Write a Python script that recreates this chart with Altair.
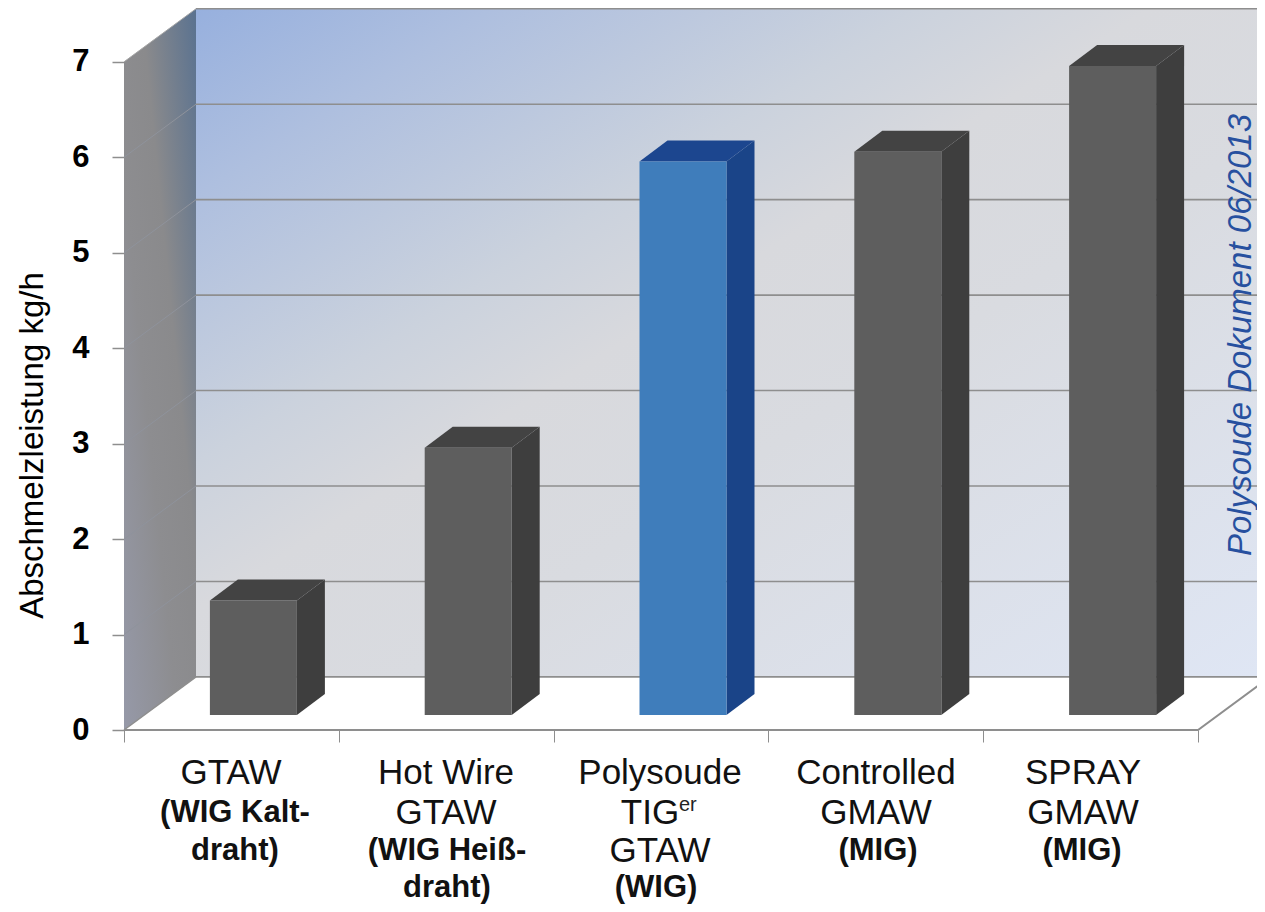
import altair as alt
import pandas as pd

# ---- chart values ----
values = [1.2, 2.8, 5.8, 5.9, 6.8]
tick_values = [0, 1, 2, 3, 4, 5, 6, 7]
category_ticks = [0, 1, 2, 3, 4, 5]
regular_lines = [["GTAW"], ["Hot Wire", "GTAW"], ["Polysoude", "TIG", "GTAW"], ["Controlled", "GMAW"], ["SPRAY", "GMAW"]]
bold_lines = [["(WIG Kalt-", "draht)"], ["(WIG Hei\u00df-", "draht)"], ["(WIG)"], ["(MIG)"], ["(MIG)"]]
y_title = "Abschmelzleistung kg/h"
note = "Polysoude Dokument 06/2013"

# ---- layout (pixels in the page) ----
X0, XU, Y0, YU = 124, 214.8, 730, 95.45
LEFT, RIGHT, TOP, BOTTOM = 8, 1257, 8, 904
FONT = "Liberation Sans"


def ux(p):
    return (p - X0) / XU


def uy(p):
    return (Y0 - p) / YU


xs = alt.Scale(domain=[ux(LEFT), ux(RIGHT)], nice=False, zero=False)
ys = alt.Scale(domain=[uy(BOTTOM), uy(TOP)], nice=False, zero=False)
W_DX, W_DY = 72 / XU, 53 / 95.3      # depth of the whole box
B_DX, B_DY = 28 / XU, 21 / YU        # depth of one bar
BAR_W = 87 / XU
BAR_SHIFT = 22 / XU
BAR_BASE = uy(715)

y_axis = alt.Axis(
    values=tick_values, orient="left", offset=LEFT - X0, domain=False, grid=False,
    tickSize=12, tickColor="#8e8e8e", tickWidth=1.5, labelPadding=23,
    labelFont=FONT, labelFontSize=31, labelFontWeight="bold", labelColor="#000000",
    title=y_title, titleFont=FONT, titleFontSize=33, titleFontWeight="normal", titleColor="#000000",
    titleX=32 - X0, titleY=445 - TOP, titleBaseline="middle", titleAngle=270, titleAlign="center",
)
x_axis = alt.Axis(
    values=category_ticks, orient="bottom", offset=Y0 - BOTTOM, domain=False, grid=False,
    tickSize=12, tickColor="#8e8e8e", tickWidth=1, labels=False, title=None,
)


def X():
    return alt.X("x:Q", scale=xs, axis=x_axis, stack=None)


def Y():
    return alt.Y("y:Q", scale=ys, axis=y_axis, stack=None)


# ---- walls ----
wall_df = pd.DataFrame([{"x": W_DX, "x2": ux(RIGHT), "y": 7 + W_DY, "y2": W_DY}])
back = alt.Chart(wall_df).mark_rect(
    color=alt.Gradient(
        gradient="linear", x1=0, y1=0, x2=1, y2=1,
        stops=[
            alt.GradientStop(offset=0, color="#97b0de"),
            alt.GradientStop(offset=0.14, color="#aebfdf"),
            alt.GradientStop(offset=0.34, color="#cbd2dd"),
            alt.GradientStop(offset=0.45, color="#d8d9dd"),
            alt.GradientStop(offset=0.6, color="#d9dbe0"),
            alt.GradientStop(offset=1, color="#dfe6f4"),
        ],
    )
).encode(x=X(), x2="x2:Q", y=Y(), y2="y2:Q")

side_df = pd.DataFrame([
    {"x": 0, "y": 7, "y2": 0},
    {"x": W_DX, "y": 7 + W_DY, "y2": W_DY},
])
side = alt.Chart(side_df).mark_area(
    color=alt.Gradient(
        gradient="linear", x1=1, y1=0, x2=0, y2=1,
        stops=[
            alt.GradientStop(offset=0, color="#5a7290"),
            alt.GradientStop(offset=0.38, color="#8a8a8c"),
            alt.GradientStop(offset=0.62, color="#8d8d90"),
            alt.GradientStop(offset=1, color="#9699a8"),
        ],
    )
).encode(x=X(), y=Y(), y2="y2:Q")

# ---- grid ----
grid_df = pd.DataFrame(
    [{"v": v, "x": W_DX, "y": v + W_DY} for v in tick_values]
    + [{"v": v, "x": ux(RIGHT), "y": v + W_DY} for v in tick_values]
)
grid = alt.Chart(grid_df).mark_line(color="#8e8e8e", strokeWidth=1.6).encode(x=X(), y=Y(), detail="v:N")
diag_df = pd.DataFrame(
    [{"v": v, "x": 0, "y": v} for v in tick_values[1:-1]]
    + [{"v": v, "x": W_DX, "y": v + W_DY} for v in tick_values[1:-1]]
)
diag = alt.Chart(diag_df).mark_line(color="#8f939c", strokeWidth=1).encode(x=X(), y=Y(), detail="v:N")
top_df = pd.DataFrame([{"x": 0, "y": 7}, {"x": W_DX, "y": 7 + W_DY}])
top_edge = alt.Chart(top_df).mark_line(color="#a6a6a6", strokeWidth=1).encode(x=X(), y=Y())

floor_df = pd.DataFrame([
    {"x": 0, "y": 0}, {"x": 5, "y": 0}, {"x": 5 + W_DX, "y": W_DY},
])
floor_line = alt.Chart(floor_df).mark_line(color="#8e8e8e", strokeWidth=2, clip=True).encode(x=X(), y=Y())
floor_df2 = pd.DataFrame([{"x": 0, "y": 0}, {"x": W_DX, "y": W_DY}])
floor_diag = alt.Chart(floor_df2).mark_line(color="#8e8e8e", strokeWidth=1.5).encode(x=X(), y=Y())

# ---- bars ----
front_rows, side_rows, top_rows = [], [], []
highlight = 2
for i, v in enumerate(values):
    hi = i == highlight
    c_front = "#3f7dbb" if hi else "#5e5e5e"
    c_side = "#1a4488" if hi else "#3e3e3e"
    c_top = "#1c468f" if hi else "#434343"
    left = i + 0.5 + BAR_SHIFT - BAR_W / 2
    right = left + BAR_W
    t = BAR_BASE + v
    front_rows.append({"bar": i, "x": left, "x2": right, "y": t, "y2": BAR_BASE, "c": c_front})
    side_rows += [
        {"bar": i, "x": right, "y": t, "y2": BAR_BASE, "c": c_side},
        {"bar": i, "x": right + B_DX, "y": t + B_DY, "y2": BAR_BASE + B_DY, "c": c_side},
    ]
    top_rows += [
        {"bar": i, "y": t, "x": left, "x2": right, "c": c_top},
        {"bar": i, "y": t + B_DY, "x": left + B_DX, "x2": right + B_DX, "c": c_top},
    ]
col = alt.Color("c:N", scale=None, legend=None)
bar_front = alt.Chart(pd.DataFrame(front_rows)).mark_rect().encode(x=X(), x2="x2:Q", y=Y(), y2="y2:Q", color=col)
bar_side = alt.Chart(pd.DataFrame(side_rows)).mark_area().encode(x=X(), y=Y(), y2="y2:Q", color=col, detail="bar:N")
bar_top = alt.Chart(pd.DataFrame(top_rows)).mark_area(orient="horizontal").encode(
    x=X(), x2="x2:Q", y=Y(), color=col, detail="bar:N"
)

# ---- category text ----
slot_y = [773, 813, 851, 888]
reg_cx = [231, 446, 660, 876, 1083]
bold_cx = [235, 447, 656, 878, 1082]
reg_rows, bold_rows = [], []
for i in range(5):
    n = len(regular_lines[i])
    for k, s in enumerate(regular_lines[i]):
        cx = reg_cx[i]
        if s == "TIG":
            cx = 650
        reg_rows.append({"x": ux(cx), "y": uy(slot_y[k]), "t": s})
    for k, s in enumerate(bold_lines[i]):
        bold_rows.append({"x": ux(bold_cx[i]), "y": uy(slot_y[n + k]), "t": s})
reg_text = alt.Chart(pd.DataFrame(reg_rows)).mark_text(
    font=FONT, fontSize=35, color="#111111", align="center", baseline="middle"
).encode(x=X(), y=Y(), text="t:N")
bold_text = alt.Chart(pd.DataFrame(bold_rows)).mark_text(
    font=FONT, fontSize=31, fontWeight="bold", color="#111111", align="center", baseline="middle"
).encode(x=X(), y=Y(), text="t:N")
sup_text = alt.Chart(pd.DataFrame([{"x": ux(679), "y": uy(805), "t": "er"}])).mark_text(
    font=FONT, fontSize=20, color="#222222", align="left", baseline="middle"
).encode(x=X(), y=Y(), text="t:N")
note_text = alt.Chart(pd.DataFrame([{"x": ux(1241), "y": uy(335), "t": note}])).mark_text(
    font=FONT, fontSize=33, fontStyle="italic", color="#27509f", angle=270, align="center", baseline="middle"
).encode(x=X(), y=Y(), text="t:N")

chart = alt.layer(
    back, side, diag, grid, top_edge, floor_diag, floor_line,
    bar_side, bar_top, bar_front, reg_text, bold_text, sup_text, note_text,
).properties(
    width=RIGHT - LEFT, height=BOTTOM - TOP, padding=0, autosize="none", background="#ffffff",
).configure_view(stroke=None)

chart.save("out.html", embed_options={"renderer": "svg", "actions": False})
